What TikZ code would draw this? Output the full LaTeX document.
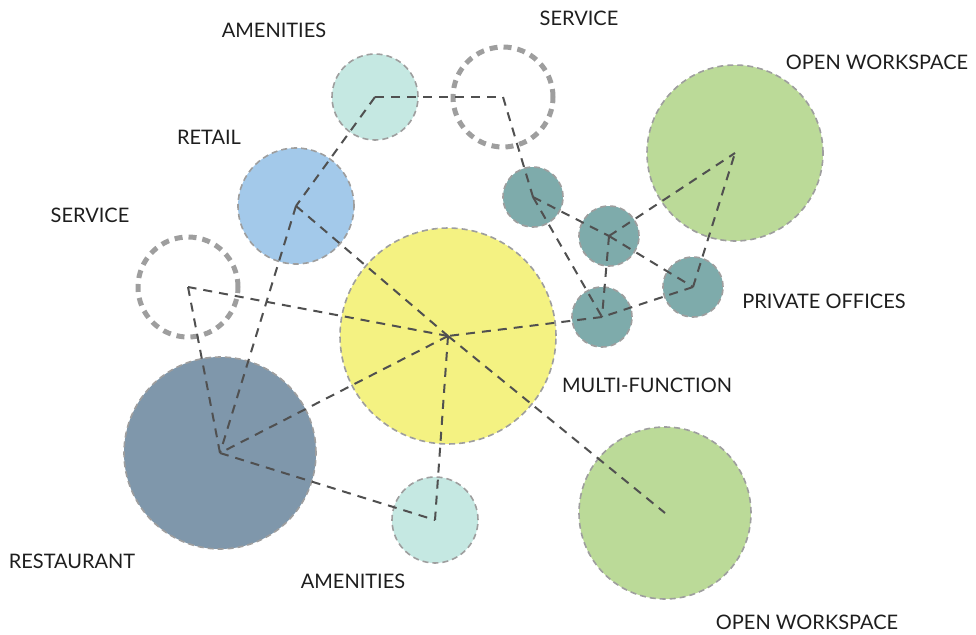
\documentclass[tikz,border=0pt]{standalone}
\usepackage{fontspec}
\setmainfont{Lato}
\definecolor{amen}{HTML}{C5E8E2}
\definecolor{retail}{HTML}{A3C9EA}
\definecolor{office}{HTML}{7EABAB}
\definecolor{open}{HTML}{BBDA98}
\definecolor{rest}{HTML}{7F97AB}
\definecolor{multi}{HTML}{F4F282}
\definecolor{rim}{HTML}{9E9E9E}
\definecolor{linkc}{HTML}{505050}
\definecolor{txt}{HTML}{1E1E1E}
\tikzset{
  room/.style={circle, inner sep=0pt, draw=rim, line width=1.6pt, dash pattern=on 6pt off 4pt},
  servroom/.style={circle, inner sep=0pt, draw=rim, line width=5pt, dash pattern=on 8pt off 6pt},
  link/.style={draw=linkc, line width=2pt, dash pattern=on 9pt off 7pt},
  lbl/.style={font=\fontsize{20}{24}\selectfont, text=txt, inner sep=0pt}
}
\begin{document}
\begin{tikzpicture}[x=1pt, y=-1pt, line join=round]
  \useasboundingbox (0,0) rectangle (976,634);
  % rooms
  \node[room, fill=amen, minimum size=86pt] (amenT) at (375,97) {};
  \node[servroom, minimum size=100pt] (servT) at (503,97) {};
  \node[room, fill=retail, minimum size=116pt] (retail) at (296,206) {};
  \node[servroom, minimum size=100pt] (servL) at (188,287) {};
  \node[room, fill=rest, minimum size=192pt] (rest) at (220,453) {};
  \node[room, fill=multi, minimum size=216pt] (multi) at (448,336) {};
  \node[room, fill=amen, minimum size=86pt] (amenB) at (435,520) {};
  \node[room, fill=open, minimum size=172pt] (owB) at (665,513) {};
  \node[room, fill=open, minimum size=176pt] (owT) at (735,153) {};
  \foreach \n/\x/\y in {offA/533/197, offB/609/236, offC/602/317, offD/693/287}
    \node[room, fill=office, minimum size=60pt] (\n) at (\x,\y) {};
  % links
  \foreach \a/\b in {amenT/servT, amenT/retail, servT/offA, retail/rest, retail/multi,
      offA/offB, offA/offC, offB/offC, offB/offD, offB/owT, offD/owT, offD/offC,
      offC/multi, multi/servL, multi/rest, multi/amenB, multi/owB, servL/rest, rest/amenB}
    \draw[link] (\a.center) -- (\b.center);
  % labels
  \node[lbl] (tAmenT) at (274,30) {AMENITIES};
  \node[lbl] (tServT) at (579,18) {SERVICE};
  \node[lbl] (tOwT) at (877,62) {OPEN WORKSPACE};
  \node[lbl] (tRetail) at (209,137) {RETAIL};
  \node[lbl] (tServL) at (90,215) {SERVICE};
  \node[lbl] (tOff) at (824,301) {PRIVATE OFFICES};
  \node[lbl] (tMulti) at (647,385) {MULTI-FUNCTION};
  \node[lbl] (tRest) at (72,561) {RESTAURANT};
  \node[lbl] (tAmenB) at (353,581) {AMENITIES};
  \node[lbl] (tOwB) at (807,622) {OPEN WORKSPACE};
\end{tikzpicture}
\end{document}
